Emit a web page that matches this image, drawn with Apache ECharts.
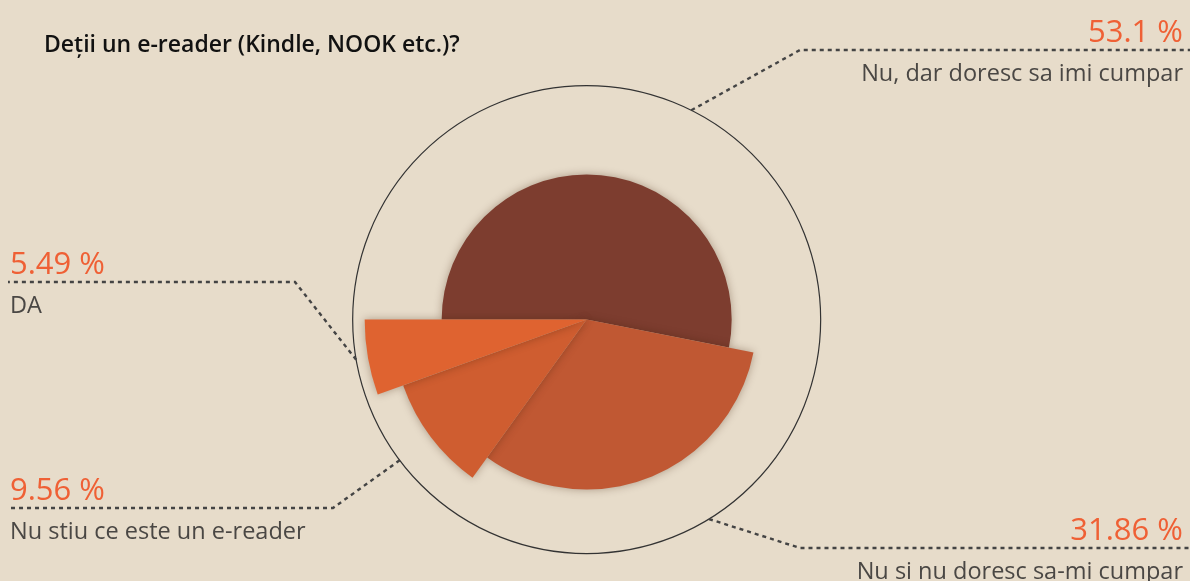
<!DOCTYPE html>
<html>
<head>
<meta charset="utf-8">
<title>Deții un e-reader</title>
<script src="https://cdn.jsdelivr.net/npm/echarts@6/dist/echarts.min.js"></script>
<style>
    html, body { margin: 0; padding: 0; background: #e7dcca; }
    #chart { width: 1190px; height: 581px; }
</style>
</head>
<body>
<div id="chart"></div>
<script>
    var categories = ['Nu, dar doresc sa imi cumpar', 'Nu si nu doresc sa-mi cumpar', 'Nu stiu ce este un e-reader', 'DA'];
    var values = [53.1, 31.86, 9.56, 5.49];
    var percentLabels = ['53.1 %', '31.86 %', '9.56 %', '5.49 %'];

    var sliceColors = ['#7d3d2f', '#c05833', '#cf5d30', '#df6330'];
    var sliceRadius = [145, 170, 195, 222];
    // where the dashed label lines bend and run to the edge
    var labelLineY = [50, 548, 508, 282];
    var labelBendX = [800, 800, 333, 295];
    var lineStartShift = [-21, 10, 0, 0]; // degrees along the ring

    var W = 1190, H = 581;
    var center = ['49.3%', '55%'];
    var cx = W * 0.493, cy = H * 0.55;
    var outerR = 234;

    var myChart = echarts.init(document.getElementById('chart'));

    // one pie per slice, the other slices kept transparent so the angles stay shared
    var slices = values.map(function (v, i) {
        return {
            type: 'pie',
            center: center,
            radius: [0, sliceRadius[i]],
            startAngle: 180,
            clockwise: true,
            silent: true,
            label: { show: false },
            labelLine: { show: false },
            emphasis: { disabled: true },
            data: values.map(function (val, j) {
                return {
                    name: categories[j],
                    value: val,
                    itemStyle: j === i ? {
                        color: sliceColors[i],
                        shadowBlur: 8,
                        shadowColor: 'rgba(60, 30, 10, 0.35)'
                    } : { color: 'transparent' }
                };
            })
        };
    });

    var labelSeries = {
        type: 'pie',
        center: center,
        radius: [0, outerR],
        startAngle: 180,
        clockwise: true,
        silent: true,
        avoidLabelOverlap: false,
        emphasis: { disabled: true },
        itemStyle: { color: 'transparent' },
        label: {
            show: true,
            position: 'outside',
            formatter: function (p) {
                return '{p|' + percentLabels[p.dataIndex] + '}\n{n|' + p.name + '}';
            },
            rich: {
                p: { fontFamily: 'Open Sans', fontSize: 31, lineHeight: 34, color: '#ef6035' },
                n: { fontFamily: 'Open Sans', fontSize: 23.5, lineHeight: 48, color: '#4a4744' }
            }
        },
        labelLine: {
            show: true,
            length: 20,
            length2: 20,
            lineStyle: { color: '#444', width: 2.4, type: [4, 4] }
        },
        labelLayout: function (p) {
            var i = p.dataIndex;
            var p0 = p.labelLinePoints[0];
            var a = Math.atan2(p0[1] - cy, p0[0] - cx) - lineStartShift[i] * Math.PI / 180;
            var start = [cx + outerR * Math.cos(a), cy + outerR * Math.sin(a)];
            var right = labelBendX[i] > W / 2;
            var y = labelLineY[i];
            return {
                x: right ? W - 7 : 10,
                y: y + 7,
                align: right ? 'right' : 'left',
                verticalAlign: 'middle',
                labelLinePoints: [start, [labelBendX[i], y], [right ? W : 8, y]]
            };
        },
        data: values.map(function (v, i) {
            return { name: categories[i], value: v };
        })
    };

    var chartOption = {
        backgroundColor: '#e7dcca',
        animation: false,
        title: {
            text: 'Deții un e-reader (Kindle, NOOK etc.)?',
            left: 39,
            top: 29,
            textStyle: {
                fontFamily: 'Open Sans',
                fontWeight: 600,
                fontSize: 23,
                color: '#111'
            }
        },
        polar: { center: center, radius: outerR },
        angleAxis: {
            type: 'value',
            min: 0,
            max: 100,
            silent: true,
            axisLine: { show: true, lineStyle: { color: '#333', width: 1.2 } },
            axisTick: { show: false },
            axisLabel: { show: false },
            splitLine: { show: false }
        },
        radiusAxis: { show: false },
        series: slices.concat([labelSeries])
    };

    myChart.setOption(chartOption);
</script>
</body>
</html>
